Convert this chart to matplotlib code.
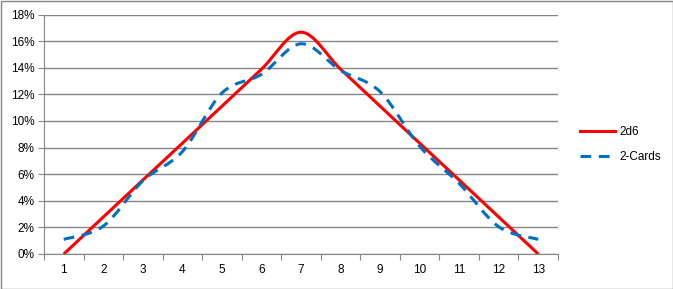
import matplotlib
matplotlib.use("Agg")
import matplotlib.pyplot as plt
from matplotlib.path import Path
from matplotlib.patches import PathPatch, Rectangle
from matplotlib.lines import Line2D
from matplotlib.ticker import FixedLocator, PercentFormatter

plt.rcParams['font.family'] = ['Liberation Sans', 'DejaVu Sans']

categories = list(range(1, 14))
dice_2d6 = [0.0, 2.78, 5.56, 8.33, 11.11, 13.89, 16.67, 13.89, 11.11, 8.33, 5.56, 2.78, 0.0]
two_cards = [1.1, 2.1, 5.5, 7.7, 12.1, 13.5, 15.8, 13.8, 12.2, 8.1, 5.3, 2.05, 1.1]
yticks = [0, 2, 4, 6, 8, 10, 12, 14, 16, 18]


def smooth_path(xs, ys):
    # Excel-style smoothed line: cubic Bezier segments through the points
    pts = list(zip(xs, ys))
    verts = [pts[0]]
    codes = [Path.MOVETO]
    n = len(pts)
    for i in range(n - 1):
        p0 = pts[i - 1] if i > 0 else pts[i]
        p1 = pts[i]
        p2 = pts[i + 1]
        p3 = pts[i + 2] if i + 2 < n else pts[i + 1]
        c1 = (p1[0] + (p2[0] - p0[0]) / 6, p1[1] + (p2[1] - p0[1]) / 6)
        c2 = (p2[0] - (p3[0] - p1[0]) / 6, p2[1] - (p3[1] - p1[1]) / 6)
        verts += [c1, c2, p2]
        codes += [Path.CURVE4] * 3
    return Path(verts, codes)


fig = plt.figure(figsize=(6.73, 2.89), dpi=100)
ax = fig.add_axes([44 / 673, 1 - 254 / 289, (558 - 44) / 673, (254 - 14.5) / 289])

red = '#FF0000'
blue = '#0070C0'
grid = '#868686'
fs = 8.5

ax.add_patch(PathPatch(smooth_path(categories, dice_2d6), fill=False,
                       edgecolor=red, lw=2.2, zorder=3))
ax.add_patch(PathPatch(smooth_path(categories, two_cards), fill=False,
                       edgecolor=blue, lw=2.2, linestyle=(0, (3.5, 2.5)), zorder=3))

ax.set_xlim(0.5, 13.5)
ax.set_ylim(0, 18)
ax.set_yticks(yticks)
ax.yaxis.set_major_formatter(PercentFormatter(decimals=0))
ax.grid(axis='y', color=grid, lw=1)
ax.set_axisbelow(True)

ax.xaxis.set_major_locator(FixedLocator([c - 0.5 for c in categories] + [13.5]))
ax.xaxis.set_minor_locator(FixedLocator(categories))
ax.set_xticklabels([])
ax.set_xticklabels([str(c) for c in categories], minor=True)
ax.tick_params(axis='x', which='major', length=4, color=grid, direction='out')
ax.tick_params(axis='x', which='minor', length=0, pad=7, labelsize=fs)
ax.tick_params(axis='y', length=4, color=grid, direction='out', labelsize=fs, pad=3)

for s in ['top', 'right']:
    ax.spines[s].set_visible(False)
for s in ['left', 'bottom']:
    ax.spines[s].set_color(grid)

handles = [Line2D([], [], color=red, lw=2.2),
           Line2D([], [], color=blue, lw=2.2, linestyle=(0, (3.5, 2.5)))]
fig.legend(handles, ['2d6', '2-Cards'], loc='center left',
           bbox_to_anchor=(569 / 673, 1 - 144.5 / 289), frameon=False,
           fontsize=fs, handlelength=3.0, handletextpad=0.4, labelspacing=1.05)

fig.add_artist(Rectangle((0.5 / 673, 0.5 / 289), 672 / 673, 288 / 289,
                         transform=fig.transFigure, fill=False,
                         edgecolor=grid, lw=1))

fig.savefig('out.png', dpi=100)
